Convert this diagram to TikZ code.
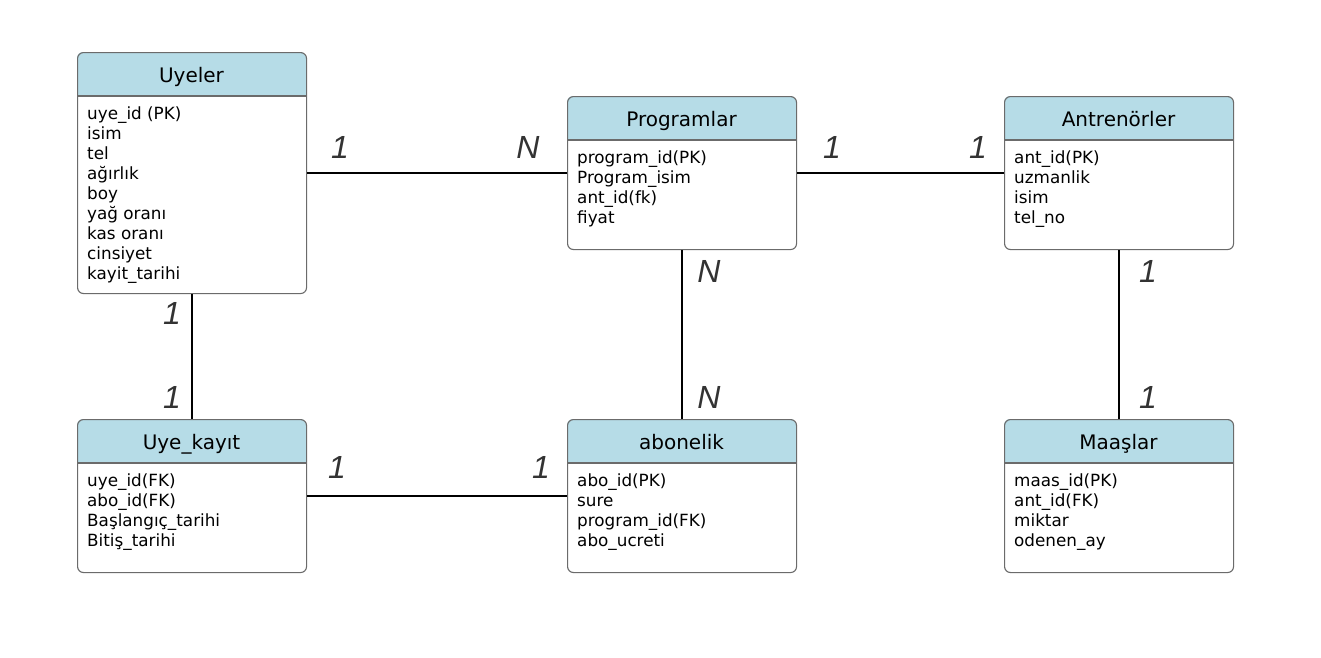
\documentclass[tikz,border=0pt]{standalone}
\usepackage{fontspec}
\setmainfont{DejaVu Sans}
\newfontfamily\lblfont{Liberation Sans}
\definecolor{hdrcol}{HTML}{B6DCE7}
\definecolor{bordcol}{HTML}{6B6B6B}
\definecolor{lblcol}{HTML}{333333}
\tikzset{
  tblbox/.style={draw=bordcol, line width=1.1pt, rounded corners=6pt, minimum width=229pt, inner sep=0pt, anchor=north west},
  tbltitle/.style={font=\fontsize{20}{24}\selectfont, text height=15pt, text depth=4pt, inner sep=0pt},
  tblbody/.style={font=\fontsize{16.8}{20}\selectfont, align=left, anchor=north west, inner sep=0pt},
  rel/.style={draw=black, line width=1.2pt},
  card/.style={font=\lblfont\itshape\fontsize{32}{36}\selectfont, text=lblcol, inner sep=0pt}
}
\newcommand\ertbl[6]{%
  \fill[hdrcol] (#2,#3+44) [rounded corners=6pt] -- (#2,#3) -- (#2+229,#3) [sharp corners] -- (#2+229,#3+44) -- cycle;
  \draw[bordcol, line width=1.1pt] (#2,#3+44) -- (#2+229,#3+44);
  \node[tblbox, minimum height=#4pt] (#1) at (#2,#3) {};
  \node[tbltitle] (#1-t) at (#2+114.5,#3+25) {#5};
  \node[tblbody] (#1-b) at (#2+10,#3+53) {\strut#6};
}
\begin{document}
\begin{tikzpicture}[x=1pt,y=-1pt]
\useasboundingbox[fill=white] (0,0) rectangle (1321,657);
\ertbl{uyeler}{77}{52}{241}{Uyeler}{uye\_id (PK)\\isim\\tel\\ağırlık\\boy\\yağ oranı\\kas oranı\\cinsiyet\\kayit\_tarihi}
\ertbl{prog}{567}{96}{153}{Programlar}{program\_id(PK)\\Program\_isim\\ant\_id(fk)\\fiyat}
\ertbl{antr}{1004}{96}{153}{Antrenörler}{ant\_id(PK)\\uzmanlik\\isim\\tel\_no}
\ertbl{kayit}{77}{419}{153}{Uye\_kayıt}{uye\_id(FK)\\abo\_id(FK)\\Başlangıç\_tarihi\\Bitiş\_tarihi}
\ertbl{abon}{567}{419}{153}{abonelik}{abo\_id(PK)\\sure\\program\_id(FK)\\abo\_ucreti}
\ertbl{maas}{1004}{419}{153}{Maaşlar}{maas\_id(PK)\\ant\_id(FK)\\miktar\\odenen\_ay}
\draw[rel] (uyeler) -- (prog);
\draw[rel] (prog) -- (antr);
\draw[rel] (uyeler) -- (kayit);
\draw[rel] (prog) -- (abon);
\draw[rel] (antr) -- (maas);
\draw[rel] (kayit) -- (abon);
\node[card] (c1) at (340,147) {1};
\node[card] (c2) at (528,147) {N};
\node[card] (c3) at (832,147) {1};
\node[card] (c4) at (978,147) {1};
\node[card] (c5) at (172,313) {1};
\node[card] (c6) at (172,397) {1};
\node[card] (c7) at (709,271) {N};
\node[card] (c8) at (709,397) {N};
\node[card] (c9) at (1148,271) {1};
\node[card] (c10) at (1148,397) {1};
\node[card] (c11) at (337,467) {1};
\node[card] (c12) at (541,467) {1};
\end{tikzpicture}
\end{document}
